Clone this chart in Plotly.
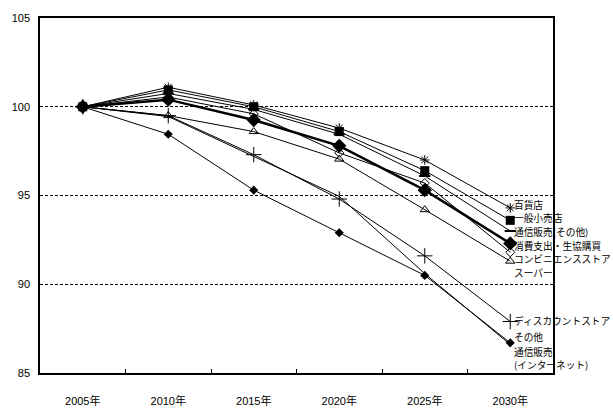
import plotly.graph_objects as go

years = ["2005年", "2010年", "2015年", "2020年", "2025年", "2030年"]

dept_store = [100, 101.1, 100.1, 98.8, 97.0, 94.3]          # 百貨店
general_retail = [100, 100.95, 100.0, 98.6, 96.4, 93.6]     # 一般小売店
mail_other = [100, 100.75, 99.85, 98.45, 96.1, 93.0]        # 通信販売(その他)
consumption = [100, 100.4, 99.25, 97.8, 95.3, 92.3]         # 消費支出・生協購買
convenience = [100, 100.55, 99.6, 97.4, 95.7, 91.8]         # コンビニエンスストア
supermarket = [100, 99.5, 98.6, 97.05, 94.2, 91.3]          # スーパー
discount = [100, 99.5, 97.3, 94.8, 91.6, 87.9]              # ディスカウントストア
others = [100, 99.45, 97.2, 94.95, 90.6, 86.6]              # その他
mail_internet = [100, 98.45, 95.3, 92.9, 90.5, 86.7]        # 通信販売(インターネット)

y_ticks = [85, 90, 95, 100, 105]

series = [
    ("百貨店", dept_store, dict(symbol="asterisk-open", size=8, line=dict(width=1, color="black")), 1),
    ("一般小売店", general_retail, dict(symbol="square", size=9, color="black"), 1),
    ("通信販売(その他)", mail_other, dict(symbol="line-ew-open", size=8, line=dict(width=2, color="black")), 1),
    ("消費支出・生協購買", consumption, dict(symbol="diamond", size=11, color="black"), 2.5),
    ("コンビニエンスストア", convenience, dict(symbol="diamond-open", size=7, color="black", line=dict(width=1, color="black")), 1),
    ("スーパー", supermarket, dict(symbol="triangle-up-open", size=8, color="black", line=dict(width=1, color="black")), 1),
    ("ディスカウントストア", discount, dict(symbol="cross-thin-open", size=11, line=dict(width=1, color="black")), 1),
    ("その他", others, dict(symbol="circle", size=1, color="black"), 1),
    ("通信販売(インターネット)", mail_internet, dict(symbol="diamond", size=7, color="black"), 1),
]

fig = go.Figure()
for name, vals, mk, lw in series:
    fig.add_trace(go.Scatter(
        x=years, y=vals, name=name, mode="lines+markers",
        line=dict(color="black", width=lw),
        marker=mk, cliponaxis=False,
    ))

# label texts and their vertical positions (in data units)
label_texts = ["百貨店", "一般小売店", "通信販売(その他)", "消費支出・生協購買",
               "コンビニエンスストア", "スーパー", "ディスカウントストア", "その他",
               "通信販売<br>(インターネット)"]
label_y = [94.49, 93.72, 92.95, 92.18, 91.41, 90.64, 87.95, 87.05, 85.8]

for t, yy in zip(label_texts, label_y):
    fig.add_annotation(
        x=years[-1], y=yy, xref="x", yref="y", text=t, showarrow=False,
        xanchor="left", yanchor="middle", xshift=3, align="left", borderpad=0,
        font=dict(family="Noto Sans CJK JP", size=9.7, color="black"),
    )

fig.update_layout(
    width=613, height=419,
    margin=dict(l=35, r=60, t=14, b=29),
    paper_bgcolor="white", plot_bgcolor="white",
    showlegend=False,
    font=dict(family="Liberation Sans, Arial, Noto Sans CJK JP", size=11, color="black"),
)
fig.update_xaxes(
    type="category", categoryorder="array", categoryarray=years,
    range=[-0.5, 5.5], showgrid=False, zeroline=False,
    showline=True, linecolor="black", linewidth=1.5, mirror=True,
    ticks="inside", tickson="boundaries", ticklen=4, tickcolor="black",
    ticklabelstandoff=17,
)
fig.update_yaxes(
    range=[85, 105], tickvals=y_ticks, showgrid=True, gridcolor="black",
    gridwidth=1, griddash="3px,2px", zeroline=False,
    showline=True, linecolor="black", linewidth=1.5, mirror=True,
    ticks="", ticklabelstandoff=6,
)

fig.write_html("out.html")
